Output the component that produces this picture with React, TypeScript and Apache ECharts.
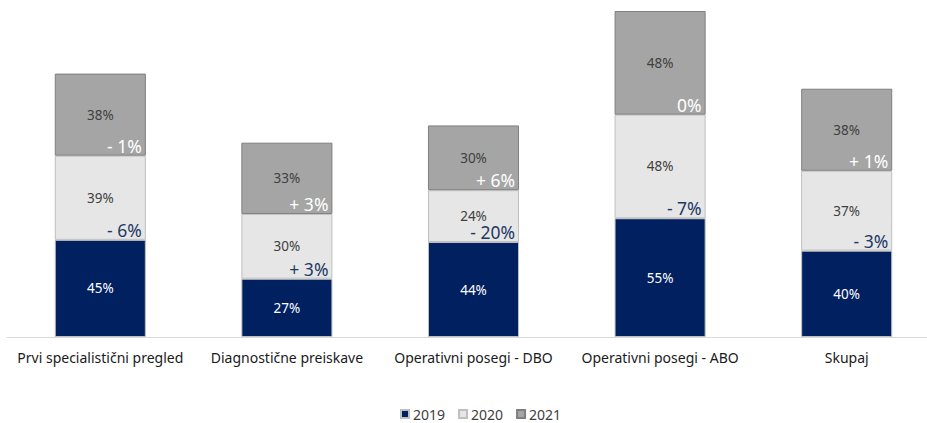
import React, { useEffect, useRef } from "react";
import * as echarts from "echarts";

const categories = [
  "Prvi specialistični pregled",
  "Diagnostične preiskave",
  "Operativni posegi - DBO",
  "Operativni posegi - ABO",
  "Skupaj",
];
const values2019 = [45, 27, 44, 55, 40];
const values2020 = [39, 30, 24, 48, 37];
const values2021 = [38, 33, 30, 48, 38];
const change2020 = ["- 6%", "+ 3%", "- 20%", "- 7%", "- 3%"];
const change2021 = ["- 1%", "+ 3%", "+ 6%", "0%", "+ 1%"];

const FONT = "'Noto Sans', 'Open Sans', sans-serif";
const NAVY = "#002060";

export default function App() {
  const ref = useRef<HTMLDivElement>(null);
  useEffect(() => {
    if (!ref.current) return;
    const chart = echarts.init(ref.current, undefined, { renderer: "svg" });
    const valueLabel = (color: string) => ({
      show: true,
      position: "inside" as const,
      formatter: (p: any) => p.value + "%",
      color,
      fontSize: 13.5,
      lineHeight: 12,
      fontFamily: FONT,
    });
    const changeLabel = (arr: string[], color: string) => ({
      show: true,
      position: ["100%", 0] as any,
      offset: [-4, -2],
      align: "right" as const,
      verticalAlign: "bottom" as const,
      formatter: (p: any) => arr[p.dataIndex],
      color,
      fontSize: 17.5,
      lineHeight: 16,
      fontFamily: FONT,
    });
    chart.setOption({
      animation: false,
      textStyle: { fontFamily: FONT },
      grid: {
        left: 7,
        width: 933,
        top: 11,
        bottom: 86,
        containLabel: false,
        outerBoundsMode: "none",
      },
      legend: {
        data: ["2019", "2020", "2021"],
        top: 406,
        left: 400,
        padding: 0,
        icon: "rect",
        itemWidth: 8,
        itemHeight: 8,
        itemGap: 13,
        textStyle: { fontSize: 14, lineHeight: 16, color: "#404040", fontFamily: FONT, padding: [0, 0, 0, -1] },
      },
      xAxis: {
        type: "category",
        data: categories,
        axisLine: { show: true, lineStyle: { color: "#d9d9d9", width: 1 } },
        axisTick: { show: false },
        axisLabel: { color: "#1a1a1a", fontSize: 14, margin: 13, fontFamily: FONT, interval: 0 },
      },
      yAxis: { type: "value", min: 0, max: 151, show: false, splitLine: { show: false } },
      series: [
        {
          name: "2019",
          type: "bar",
          stack: "a",
          barWidth: "48.8%",
          data: values2019,
          itemStyle: { color: NAVY, borderColor: "#bfbfbf", borderWidth: 1 },
          label: valueLabel("#ffffff"),
          silent: true,
        },
        {
          name: "2020",
          type: "bar",
          stack: "a",
          barWidth: "48.8%",
          data: values2020,
          itemStyle: { color: "#e7e6e6", borderColor: "#bfbfbf", borderWidth: 1 },
          label: valueLabel("#404040"),
          silent: true,
        },
        {
          name: "2021",
          type: "bar",
          stack: "a",
          barWidth: "48.8%",
          data: values2021,
          itemStyle: { color: "#a5a5a5", borderColor: "#7f7f7f", borderWidth: 1 },
          label: valueLabel("#404040"),
          silent: true,
        },
        {
          name: "chg2020",
          type: "bar",
          stack: "b",
          barWidth: "48.8%",
          data: values2019,
          itemStyle: { color: "rgba(0,0,0,0)" },
          label: changeLabel(change2020, "#203864"),
          silent: true,
          z: 5,
        },
        {
          name: "chg2021",
          type: "bar",
          stack: "b",
          barWidth: "48.8%",
          barGap: "-100%",
          data: values2020,
          itemStyle: { color: "rgba(0,0,0,0)" },
          label: changeLabel(change2021, "#ffffff"),
          silent: true,
          z: 5,
        },
      ],
    });
    return () => chart.dispose();
  }, []);
  return (
    <div
      ref={ref}
      style={{ position: "absolute", left: 0, top: 0, width: 927, height: 423, background: "#fff" }}
    />
  );
}
